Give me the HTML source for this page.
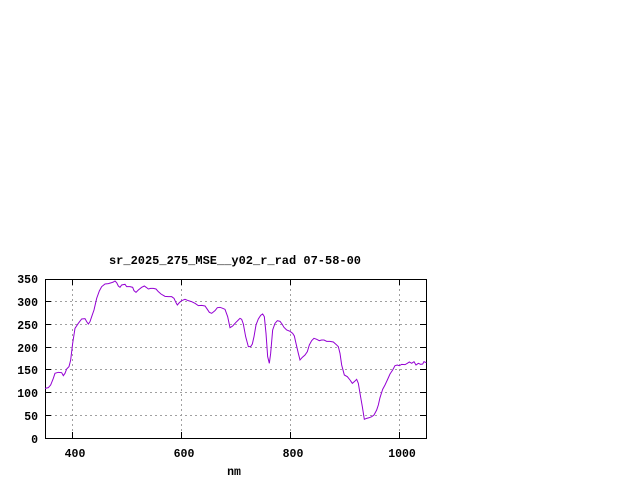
<!DOCTYPE html>
<html><head><style>body{margin:0;background:#fff}svg{display:block}text{font-family:"Liberation Mono",monospace;font-weight:bold;font-size:11.5px;fill:#000}</style></head>
<body><svg width="640" height="480" xmlns="http://www.w3.org/2000/svg">
<rect width="640" height="480" fill="#fff"/>
<g stroke="#a0a0a0" stroke-width="1" stroke-dasharray="2,3">
<line x1="45" x2="426" y1="415.5" y2="415.5"/><line x1="45" x2="426" y1="392.5" y2="392.5"/><line x1="45" x2="426" y1="369.5" y2="369.5"/><line x1="45" x2="426" y1="347.5" y2="347.5"/><line x1="45" x2="426" y1="324.5" y2="324.5"/><line x1="45" x2="426" y1="301.5" y2="301.5"/>
<line x1="72.5" x2="72.5" y1="279" y2="438"/><line x1="181.5" x2="181.5" y1="279" y2="438"/><line x1="290.5" x2="290.5" y1="279" y2="438"/><line x1="399.5" x2="399.5" y1="279" y2="438"/>
</g>
<g stroke="#000" stroke-width="1">
<path d="M45 415.5h6M45 392.5h6M45 369.5h6M45 347.5h6M45 324.5h6M45 301.5h6M426 415.5h-6M426 392.5h-6M426 369.5h-6M426 347.5h-6M426 324.5h-6M426 301.5h-6M72.5 438v-6M181.5 438v-6M290.5 438v-6M399.5 438v-6M72.5 279v6M181.5 279v6M290.5 279v6M399.5 279v6"/>
<rect x="45.5" y="279.5" width="381" height="159" fill="none"/>
</g>
<g text-anchor="end">
<text x="38" y="443">0</text><text x="38" y="420">50</text><text x="38" y="397">100</text><text x="38" y="374">150</text><text x="38" y="352">200</text><text x="38" y="329">250</text><text x="38" y="306">300</text><text x="38" y="283">350</text>
</g>
<g text-anchor="middle">
<text x="75" y="457">400</text><text x="184" y="457">600</text><text x="293" y="457">800</text><text x="402" y="457">1000</text>
<text x="234" y="475">nm</text>
<text x="235" y="264" style="font-size:12px">sr_2025_275_MSE__y02_r_rad 07-58-00</text>
</g>
<g transform="translate(0,250) scale(0.33333)">
<polyline fill="none" stroke="#9400d3" stroke-width="3" points="135,415 145,413 152,405 160,385 165,370 175,367 185,368 190,377 195,370 200,357 207,350 212,330 218,280 225,235 235,220 245,207 255,206 260,215 265,222 270,215 275,200 282,180 290,145 298,123 305,110 315,102 325,101 335,98 340,96 345,93 350,98 355,108 360,112 365,105 370,104 375,103 380,110 390,110 398,112 402,122 408,127 415,120 425,112 433,108 440,113 445,117 452,115 460,115 468,117 475,125 483,132 495,139 505,140 515,140 522,145 528,158 532,165 538,158 545,152 555,148 565,152 575,155 585,160 595,167 605,166 615,168 622,178 628,187 635,190 645,182 652,173 660,172 668,175 675,178 683,200 690,233 698,228 708,217 715,210 720,205 725,208 730,222 737,260 745,290 752,290 757,282 762,260 768,225 775,207 782,196 788,192 793,200 798,250 803,320 808,340 812,310 818,240 825,220 832,212 840,214 846,222 852,232 860,240 870,244 878,250 883,258 888,280 895,310 900,330 907,322 915,315 922,305 928,285 935,272 942,265 950,268 958,272 965,270 972,270 980,274 990,274 1000,276 1008,283 1015,290 1020,310 1025,345 1033,375 1042,380 1050,390 1057,400 1065,393 1070,388 1075,400 1080,430 1087,470 1093,508 1100,505 1108,503 1115,500 1122,495 1130,480 1135,465 1140,443 1148,418 1155,405 1162,390 1170,372 1178,360 1185,347 1192,345 1198,347 1205,343 1215,344 1222,340 1228,336 1235,340 1242,335 1248,345 1255,340 1262,343 1268,342 1272,335 1279,338"/>
</g>
</svg></body></html>
